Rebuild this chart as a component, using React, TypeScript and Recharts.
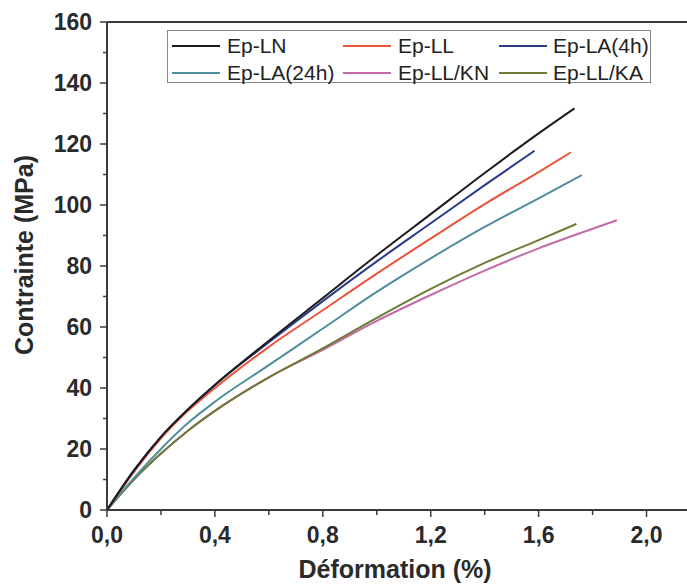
import React from 'react';
import { LineChart, Line, XAxis, YAxis, ReferenceLine, Legend } from 'recharts';

// ---- data (strain in %, stress in MPa) ----
const strainLN = [0, 0.1, 0.2, 0.3, 0.4, 0.6, 0.8, 1.0, 1.2, 1.4, 1.6, 1.733];
const stressLN = [0, 13, 24, 33, 41, 55.5, 69.5, 83.5, 97, 110.5, 123.5, 131.7];

const strainLL = [0, 0.1, 0.2, 0.3, 0.4, 0.6, 0.8, 1.0, 1.2, 1.4, 1.6, 1.72];
const stressLL = [0, 12.5, 23.5, 32.5, 40, 53.5, 65.5, 77.5, 89, 100.3, 110.8, 117.3];

const strainLA4 = [0, 0.1, 0.2, 0.3, 0.4, 0.6, 0.8, 1.0, 1.2, 1.4, 1.585];
const stressLA4 = [0, 13, 24, 33, 41, 55, 68.5, 81.5, 94, 106.5, 117.8];

const strainLA24 = [0, 0.1, 0.2, 0.3, 0.4, 0.6, 0.8, 1.0, 1.2, 1.4, 1.6, 1.76];
const stressLA24 = [0, 10.5, 20, 28.5, 35.5, 47.5, 59.5, 71.5, 82.5, 92.8, 102.2, 109.8];

const strainKN = [0, 0.1, 0.2, 0.3, 0.4, 0.6, 0.8, 1.0, 1.2, 1.4, 1.6, 1.8, 1.89];
const stressKN = [0, 10, 18.5, 26, 32.5, 43.5, 52.5, 62, 70.5, 78.5, 85.8, 92.2, 95];

const strainKA = [0, 0.1, 0.2, 0.3, 0.4, 0.6, 0.8, 1.0, 1.2, 1.4, 1.6, 1.74];
const stressKA = [0, 10, 18.5, 26, 32.5, 43.5, 53, 63, 72.5, 81, 88.5, 93.8];

const seriesNames = ['Ep-LN', 'Ep-LL', 'Ep-LA(4h)', 'Ep-LA(24h)', 'Ep-LL/KN', 'Ep-LL/KA'];
const seriesColors = ['#1c1c1c', '#e8553a', '#2b3b8c', '#4f8f9b', '#c46aa6', '#6f7a36'];

const xTicks = [0, 0.2, 0.4, 0.6, 0.8, 1.0, 1.2, 1.4, 1.6, 1.8, 2.0];
const yTicks = [0, 10, 20, 30, 40, 50, 60, 70, 80, 90, 100, 110, 120, 130, 140, 150, 160];

const xTitle = 'Déformation (%)';
const yTitle = 'Contrainte (MPa)';

const build = (xs: number[], ys: number[]) => xs.map((x, i) => ({ x, y: ys[i] }));
const seriesData = [
  build(strainLN, stressLN),
  build(strainLL, stressLL),
  build(strainLA4, stressLA4),
  build(strainLA24, stressLA24),
  build(strainKN, stressKN),
  build(strainKA, stressKA),
];
// draw order (back to front)
const drawOrder = [4, 5, 3, 1, 2, 0];

const AXIS = '#3a3a3a';
const TEXT = '#2a2a2a';
const TICK_FONT = '"Liberation Sans Narrow","Arial Narrow","Liberation Sans",Arial,sans-serif';
const TITLE_FONT = '"Liberation Sans",Arial,sans-serif';

function YTick(props: any) {
  const { x, y, payload } = props;
  const v = payload.value as number;
  const major = v % 20 === 0;
  return (
    <g>
      <line x1={x - (major ? 7 : 4)} x2={x} y1={y} y2={y} stroke={AXIS} strokeWidth={1.5} />
      {major && (
        <text x={x - 15} y={y} dy={8} textAnchor="end" fontFamily={TICK_FONT} fontWeight="bold" fontSize={23} fill={TEXT}>
          {v}
        </text>
      )}
    </g>
  );
}

function XTick(props: any) {
  const { x, y, payload } = props;
  const v = payload.value as number;
  const major = Math.round(v * 10) % 4 === 0;
  return (
    <g>
      <line x1={x} x2={x} y1={y} y2={y + (major ? 7 : 5)} stroke={AXIS} strokeWidth={1.5} />
      {major && (
        <text x={x} y={y + 33} textAnchor="middle" fontFamily={TICK_FONT} fontWeight="bold" fontSize={23} fill={TEXT}>
          {v.toFixed(1).replace('.', ',')}
        </text>
      )}
    </g>
  );
}

function YTitle(props: any) {
  const vb = props.viewBox || { x: 0, y: 22, width: 107, height: 488 };
  const cx = vb.x + 24;
  const cy = vb.y + vb.height / 2 - 11;
  return (
    <text x={cx} y={cy} transform={`rotate(-90 ${cx} ${cy})`} textAnchor="middle" dominantBaseline="central"
      fontFamily={TITLE_FONT} fontWeight="bold" fontSize={25} fill={TEXT}>
      {yTitle}
    </text>
  );
}

function XTitle(props: any) {
  const vb = props.viewBox || { x: 107, y: 510, width: 580, height: 77 };
  return (
    <text x={vb.x + vb.width / 2 - 2} y={vb.y + 68} textAnchor="middle"
      fontFamily={TITLE_FONT} fontWeight="bold" fontSize={25} fill={TEXT}>
      {xTitle}
    </text>
  );
}

const colSample = [4, 175, 331];
const colText = [59, 230, 385];
const rowY = [15, 42];

function LegendBox() {
  return (
    <div style={{ position: 'relative', width: 484, height: 53, border: '1px solid #8a8a8a', boxSizing: 'border-box', background: '#fff' }}>
      {seriesNames.map((name, i) => {
        const col = i % 3;
        const row = Math.floor(i / 3);
        return (
          <React.Fragment key={name}>
            <div style={{ position: 'absolute', left: colSample[col], top: rowY[row] - 1, width: 48, height: 2, background: seriesColors[i] }} />
            <div style={{ position: 'absolute', left: colText[col], top: rowY[row] - 13, fontFamily: TITLE_FONT, fontSize: 21, lineHeight: '26px', color: '#222', whiteSpace: 'nowrap' }}>
              {name}
            </div>
          </React.Fragment>
        );
      })}
    </div>
  );
}

export default function App() {
  return (
    <div style={{ position: 'absolute', left: 0, top: 0, width: 687, height: 587, background: '#fff' }}>
      <LineChart width={687} height={587} margin={{ top: 22, right: 0, bottom: 0, left: 0 }}>
        <XAxis
          type="number"
          dataKey="x"
          domain={[0, 2.15]}
          ticks={xTicks}
          interval={0}
          tickSize={0}
          tickMargin={0}
          tickLine={false}
          tick={<XTick />}
          axisLine={{ stroke: AXIS, strokeWidth: 2 }}
          height={77}
          allowDataOverflow
          label={<XTitle />}
        />
        <YAxis
          type="number"
          dataKey="y"
          domain={[0, 160]}
          ticks={yTicks}
          interval={0}
          tickSize={0}
          tickMargin={0}
          tickLine={false}
          tick={<YTick />}
          axisLine={{ stroke: AXIS, strokeWidth: 2 }}
          width={107}
          label={<YTitle />}
        />
        <ReferenceLine y={160} stroke={AXIS} strokeWidth={2} />
        {drawOrder.map((i) => (
          <Line
            key={seriesNames[i]}
            data={seriesData[i]}
            dataKey="y"
            name={seriesNames[i]}
            type="monotone"
            stroke={seriesColors[i]}
            strokeWidth={2}
            dot={false}
            activeDot={false}
            isAnimationActive={false}
          />
        ))}
        <Legend
          layout="vertical"
          align="center"
          verticalAlign="middle"
          content={<LegendBox />}
          wrapperStyle={{ left: 167, top: 30, width: 484, height: 53 }}
        />
      </LineChart>
    </div>
  );
}
